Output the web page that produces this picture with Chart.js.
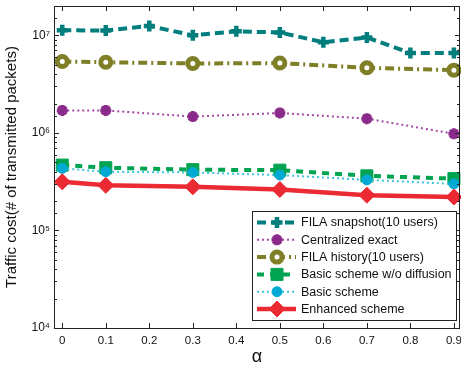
<!DOCTYPE html>
<html><head><meta charset="utf-8">
<script src="https://cdn.jsdelivr.net/npm/chart.js@4/dist/chart.umd.min.js"></script>
<style>html,body{margin:0;padding:0;background:#fff}canvas{display:block}</style>
</head><body>
<canvas id="c" width="461" height="369"></canvas>
<script>
// ---- data ----
const alphaAll = [0, 0.1, 0.2, 0.3, 0.4, 0.5, 0.6, 0.7, 0.8, 0.9];
const alphaMain = [0, 0.1, 0.3, 0.5, 0.7, 0.9];
const filaSnapshot = [1.13e7, 1.12e7, 1.25e7, 1.0e7, 1.1e7, 1.07e7, 8.5e6, 9.5e6, 6.6e6, 6.6e6];
const centralizedExact = [1.7e6, 1.7e6, 1.47e6, 1.6e6, 1.4e6, 0.98e6];
const filaHistory = [5.4e6, 5.3e6, 5.15e6, 5.2e6, 4.65e6, 4.4e6];
const basicNoDiffusion = [4.68e5, 4.4e5, 4.2e5, 4.15e5, 3.63e5, 3.4e5];
const basicScheme = [4.33e5, 4.0e5, 3.93e5, 3.7e5, 3.3e5, 3.0e5];
const enhancedScheme = [3.15e5, 2.9e5, 2.8e5, 2.63e5, 2.3e5, 2.2e5];
const seriesNames = ['FILA snapshot(10 users)', 'Centralized exact', 'FILA history(10 users)',
  'Basic scheme w/o diffusion', 'Basic scheme', 'Enhanced scheme'];
const xTickLabels = ['0', '0.1', '0.2', '0.3', '0.4', '0.5', '0.6', '0.7', '0.8', '0.9'];
const yTickLabels = {4: '10\u2074', 5: '10\u2075', 6: '10\u2076', 7: '10\u2077'};
const xTitle = '\u03b1';
const yTitle = 'Traffic cost(# of transmitted packets)';

const zip = (xs, ys) => xs.map((x, i) => ({x: x, y: ys[i]}));

const datasets = [
  {label: seriesNames[0], data: zip(alphaAll, filaSnapshot), borderColor: '#007d7d', backgroundColor: '#007d7d',
   borderWidth: 4, borderDash: [9, 5], pointStyle: 'cross', pointRadius: 5.5, pointBorderWidth: 4.5, order: 5},
  {label: seriesNames[1], data: zip(alphaMain, centralizedExact), borderColor: '#a64aa6', backgroundColor: '#8a2a8a',
   pointBorderColor: '#8a2a8a', borderWidth: 2, borderDash: [2, 3], pointStyle: 'star', pointRadius: 5.5, pointBorderWidth: 3.5, order: 4},
  {label: seriesNames[2], data: zip(alphaMain, filaHistory), borderColor: '#7f7f27', backgroundColor: '#ffffff',
   pointBorderColor: '#7f7f27', borderWidth: 4, borderDash: [9, 4, 2, 4], pointStyle: 'circle', pointRadius: 5, pointBorderWidth: 5, order: 3},
  {label: seriesNames[3], data: zip(alphaMain, basicNoDiffusion), borderColor: '#00a450', backgroundColor: '#00a450',
   borderWidth: 4, borderDash: [7, 6], pointStyle: 'rect', pointRadius: 8.5, pointBorderWidth: 1, order: 2},
  {label: seriesNames[4], data: zip(alphaMain, basicScheme), borderColor: '#3cc3dc', backgroundColor: '#00aad4',
   pointBorderColor: '#00aad4', borderWidth: 2, borderDash: [2, 3], pointStyle: 'circle', pointRadius: 5, pointBorderWidth: 1, order: 1},
  {label: seriesNames[5], data: zip(alphaMain, enhancedScheme), borderColor: '#ec2a34', backgroundColor: '#ec2a34',
   borderWidth: 4.5, borderDash: [], pointStyle: 'rectRot', pointRadius: 8, pointBorderWidth: 1, order: 0}
];
datasets.forEach(d => { d.showLine = true; d.fill = false; d.tension = 0; d.borderCapStyle = 'butt';
  if (!d.pointBorderColor) d.pointBorderColor = d.borderColor; d.pointBackgroundColor = d.backgroundColor; d.clip = false; });

const FONT = 'Liberation Sans, Arial, Helvetica, sans-serif';

const framePlugin = {
  id: 'frame',
  afterDraw(chart) {
    const ctx = chart.ctx, a = chart.chartArea, xs = chart.scales.x, ys = chart.scales.y;
    ctx.save();
    ctx.strokeStyle = '#222'; ctx.lineWidth = 1;
    ctx.strokeRect(Math.round(a.left) + 0.5, Math.round(a.top) + 0.5, Math.round(a.right - a.left) - 1, Math.round(a.bottom - a.top));
    ctx.beginPath();
    xs.ticks.forEach(t => {
      const px = Math.round(xs.getPixelForValue(t.value)) + 0.5;
      ctx.moveTo(px, a.bottom); ctx.lineTo(px, a.bottom - 5);
      ctx.moveTo(px, a.top); ctx.lineTo(px, a.top + 5);
    });
    ys.ticks.forEach(t => {
      const lg = Math.log10(t.value);
      const major = Math.abs(lg - Math.round(lg)) < 1e-6;
      const len = major ? 5 : 3;
      const py = Math.round(ys.getPixelForValue(t.value)) + 0.5;
      ctx.moveTo(a.left, py); ctx.lineTo(a.left + len, py);
      ctx.moveTo(a.right, py); ctx.lineTo(a.right - len, py);
    });
    ctx.stroke();

    // legend
    const bx = 252, by = 211, bw = 204, bh = 109;
    ctx.fillStyle = '#fff'; ctx.fillRect(bx, by, bw, bh);
    ctx.strokeStyle = '#222'; ctx.lineWidth = 1; ctx.strokeRect(bx + 0.5, by + 0.5, bw, bh);
    ctx.font = '12.5px ' + FONT; ctx.textBaseline = 'middle'; ctx.textAlign = 'left';
    datasets.forEach((d, i) => {
      const cy = 222.5 + i * 17.3;
      ctx.save();
      ctx.strokeStyle = d.borderColor; ctx.lineWidth = d.borderWidth; ctx.setLineDash(d.borderDash); ctx.lineCap = 'butt';
      ctx.beginPath(); ctx.moveTo(257, cy); ctx.lineTo(296, cy); ctx.stroke();
      ctx.setLineDash([]);
      ctx.fillStyle = d.pointBackgroundColor; ctx.strokeStyle = d.pointBorderColor; ctx.lineWidth = d.pointBorderWidth;
      Chart.helpers.drawPoint(ctx, {pointStyle: d.pointStyle, radius: d.pointRadius, borderWidth: d.pointBorderWidth, rotation: 0}, 277, cy);
      ctx.restore();
      ctx.fillStyle = '#111';
      ctx.fillText(d.label, 301, cy + 0.5);
    });
    ctx.restore();
  }
};

new Chart(document.getElementById('c'), {
  type: 'scatter',
  data: {datasets: datasets},
  options: {
    responsive: false, animation: false, devicePixelRatio: 1,
    layout: {autoPadding: false, padding: {top: 6, right: 1, left: 0, bottom: 0}},
    plugins: {legend: {display: false}, tooltip: {enabled: false}},
    scales: {
      x: {
        type: 'linear', min: -0.019, max: 0.914,
        grid: {display: false, drawTicks: false}, border: {display: false},
        ticks: {stepSize: 0.1, includeBounds: false, padding: 6, color: '#111', font: {family: FONT, size: 11.5},
          maxRotation: 0, autoSkip: false,
          callback: v => { const i = Math.round(v * 10); return (Math.abs(v * 10 - i) < 1e-6 && xTickLabels[i] !== undefined) ? xTickLabels[i] : ''; }},
        title: {display: true, text: xTitle, color: '#111', font: {family: FONT, size: 18}, padding: {top: 0, bottom: 1}},
        afterFit: s => { s.height = 41; s.paddingLeft = 0; s.paddingRight = 0; }
      },
      y: {
        type: 'logarithmic', min: 1e4, max: 2e7,
        grid: {display: false, drawTicks: false}, border: {display: false},
        ticks: {padding: 4, color: '#111', font: {family: FONT, size: 12}, autoSkip: false,
          callback: v => { const lg = Math.log10(v); const r = Math.round(lg); return (Math.abs(lg - r) < 1e-6 && yTickLabels[r]) ? yTickLabels[r] : ''; }},
        title: {display: true, text: yTitle, color: '#111', font: {family: FONT, size: 15}, padding: {top: 3, bottom: 0}},
        afterFit: s => { s.width = 54; s.paddingTop = 0; s.paddingBottom = 0; }
      }
    }
  },
  plugins: [framePlugin]
});
</script>
</body></html>
